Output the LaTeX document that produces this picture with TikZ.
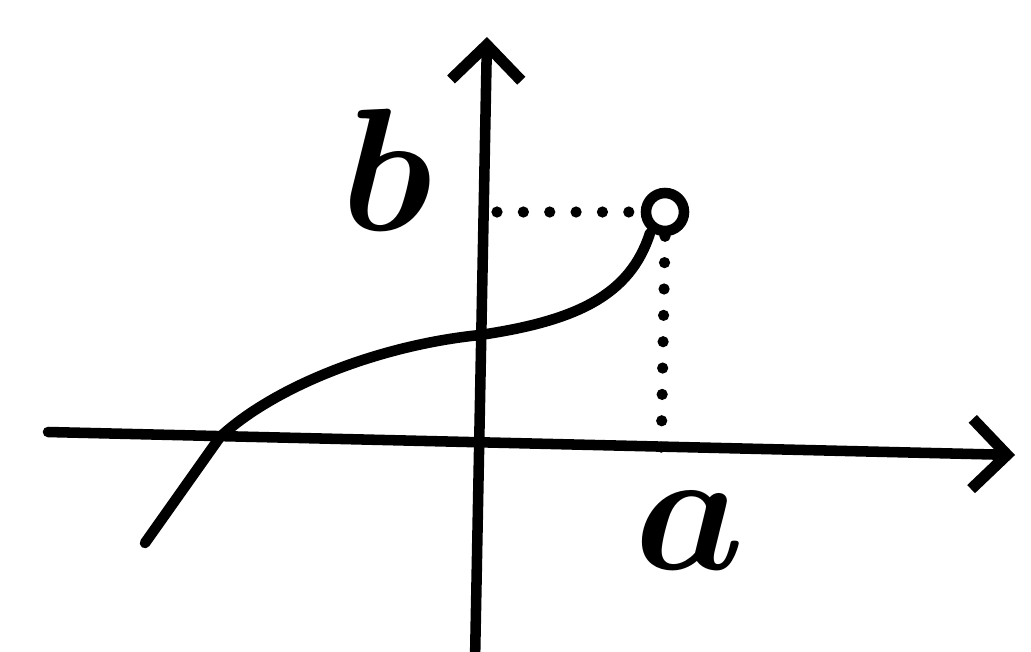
\documentclass[tikz,border=0pt]{standalone}
\usetikzlibrary{arrows.meta}
\begin{document}
\begin{tikzpicture}[
  ink/.style={line width=3pt, line cap=round, line join=round},
  axis/.style={ink, -{Straight Barb[length=10pt,width=20pt,line width=3.2pt]}},
  dots/.style={line width=3.2pt, line cap=round, dash pattern=on 0pt off 7.5pt},
  lbl/.style={font=\Huge\boldmath, scale=2.0},
  opendot/.style={circle, draw, line width=3pt, minimum size=0.38cm, inner sep=0pt, fill=white}
]
\useasboundingbox (0,0) rectangle (10.31,6.51);
\fill[white] (0,0) rectangle (10.31,6.51);
% axes
\coordinate (xl) at (0.48,2.19);
\coordinate (xr) at (10.15,1.96);
\coordinate (yb) at (4.75,-0.1);
\coordinate (yt) at (4.87,6.14);
\draw[axis] (xl) -- (xr);
\draw[axis] (yb) -- (yt);
% curve
\coordinate (c0) at (1.45,1.08);
\coordinate (c1) at (2.20,2.14);
\coordinate (c2) at (4.80,3.16);
\coordinate (c3) at (6.50,4.18);
\draw[ink] (c0) -- (c1) .. controls (2.75,2.65) and (3.8,3.06) .. (c2)
  .. controls (5.75,3.30) and (6.30,3.55) .. (c3);
% open point
\node[opendot] (p) at (6.65,4.39) {};
% dotted guides
\coordinate (bb) at (4.97,4.39);
\coordinate (aa) at (6.61,1.92);
\draw[dots] (bb) -- (p.west);
\draw[dots] (p.south) -- (aa);
% labels
\node[lbl] (b) at (3.87,4.81) {$b$};
\node[lbl] (a) at (6.90,1.20) {$a$};
\end{tikzpicture}
\end{document}
